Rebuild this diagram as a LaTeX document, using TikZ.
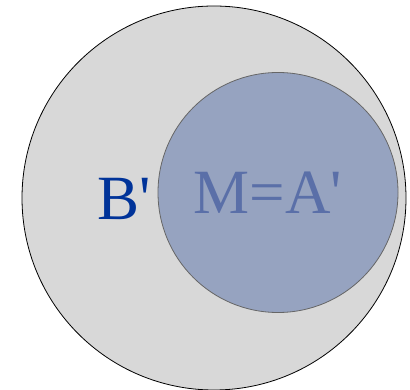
\documentclass[tikz,border=0pt]{standalone}
\usepackage{fontspec}
\setmainfont{Liberation Serif}
\usepackage{tikz}
\definecolor{outerfill}{HTML}{D8D8D8}
\definecolor{innerfill}{HTML}{96A3C0}
\definecolor{bcol}{HTML}{003399}
\definecolor{acol}{HTML}{5A6FA8}

\begin{document}
\begin{tikzpicture}[x=1pt,y=-1pt,
    setlabel/.style={anchor=base,inner sep=0pt,font=\fontsize{63}{63}\selectfont}]
  \useasboundingbox (0,0) rectangle (410,390);
  % outer set B'
  \draw[fill=outerfill,draw=black,line width=0.8pt] (214,198) circle (192);
  % inner set M=A'
  \draw[fill=innerfill,draw=black!60,line width=0.8pt] (278,192.5) circle (120);
  % labels
  \node[setlabel,text=bcol] (bset) at (124.5,220) {B\textquotesingle};
  \node[setlabel,text=acol] (aset) at (268,214) {M=A\textquotesingle};
\end{tikzpicture}
\end{document}
